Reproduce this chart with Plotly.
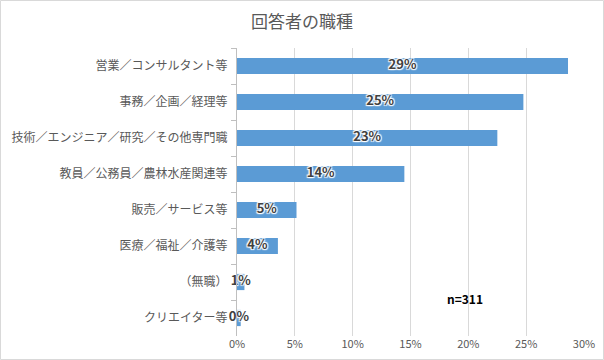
import plotly.graph_objects as go

categories = ["営業／コンサルタント等", "事務／企画／経理等", "技術／エンジニア／研究／その他専門職",
              "教員／公務員／農林水産関連等", "販売／サービス等", "医療／福祉／介護等", "（無職）", "クリエイター等"]
counts = [89, 77, 70, 45, 16, 11, 2, 1]
total_n = 311
shares = [c / total_n for c in counts]
tick_vals = [0, 0.05, 0.10, 0.15, 0.20, 0.25, 0.30]
tick_text = ["0%", "5%", "10%", "15%", "20%", "25%", "30%"]
title_text = "回答者の職種"
note_text = "n=311"

FONT = "Noto Sans CJK JP"
GRAY = "#595959"
BLUE = "#5B9BD5"

fig = go.Figure()
fig.add_trace(go.Bar(
    y=categories, x=shares, orientation="h",
    marker=dict(color=BLUE, line=dict(width=0)),
    hoverinfo="skip",
))
fig.add_trace(go.Scatter(
    y=categories, x=[s / 2 for s in shares],
    mode="text",
    text=[f"{round(s * 100):.0f}%" for s in shares],
    textposition="middle center",
    textfont=dict(family=FONT, size=13, color="#404040", weight="bold",
                  shadow="1px 1px 1px white, -1px -1px 1px white, 1px -1px 1px white, -1px 1px 1px white, 0 0 2px white"),
    hoverinfo="skip", cliponaxis=False,
))

L, R, T, B = 237, 20, 48, 24
W, H = 604, 360
pw, ph = W - L - R, H - T - B

fig.update_layout(
    width=W, height=H,
    margin=dict(l=L, r=R, t=T, b=B, autoexpand=False),
    paper_bgcolor="white", plot_bgcolor="white",
    showlegend=False,
    bargap=0.55,
    title=dict(text=title_text, x=0.5, xanchor="center", y=1 - 22 / H, yanchor="middle",
               font=dict(family=FONT, size=17, color=GRAY, weight="normal"), automargin=False),
    xaxis=dict(range=[0, 0.30], tickvals=tick_vals, ticktext=tick_text, automargin=False,
               showgrid=True, gridcolor="#D9D9D9", gridwidth=1, zeroline=False,
               showline=False, ticks="", tickfont=dict(family=FONT, size=11, color=GRAY),
               fixedrange=True),
    yaxis=dict(autorange="reversed", showline=True, linecolor="#BFBFBF", linewidth=1, automargin=False,
               ticks="outside", tickson="boundaries", ticklen=5, tickcolor="#BFBFBF",
               ticklabelstandoff=6, fixedrange=True,
               tickfont=dict(family=FONT, size=12, color=GRAY), showgrid=False),
    annotations=[dict(text=note_text, xref="paper", yref="paper", x=(465 - L) / pw, y=(H - B - 309) / ph,
                      showarrow=False, font=dict(family=FONT, size=12, color="black", weight="bold"))],
    shapes=[dict(type="rect", xref="paper", yref="paper",
                 x0=-(L - 0.5) / pw, x1=1 + (R - 0.5) / pw, y0=-(B - 0.5) / ph, y1=1 + (T - 0.5) / ph,
                 line=dict(color="#D9D9D9", width=1), fillcolor="rgba(0,0,0,0)", layer="above")],
)

fig.write_html("out.html", config={"displayModeBar": False},
               post_script="document.body.style.margin='0px';document.body.style.overflow='hidden';")
